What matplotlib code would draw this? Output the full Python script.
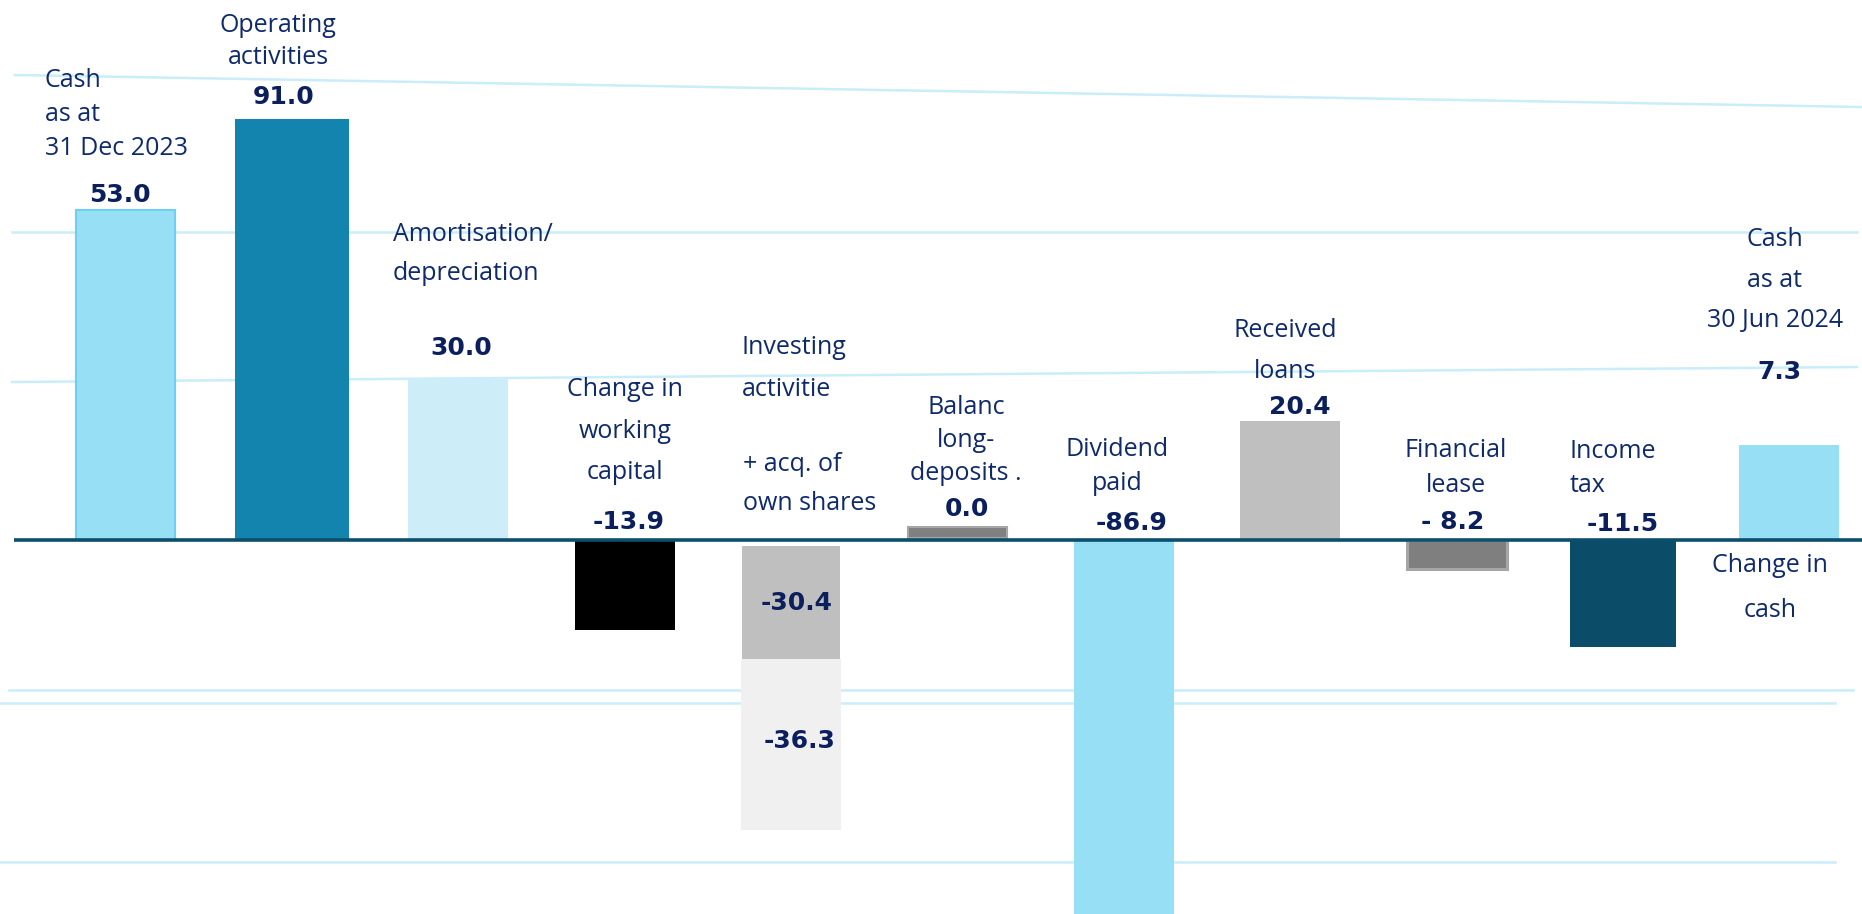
import matplotlib
matplotlib.use("Agg")
import matplotlib.pyplot as plt

# --- data -----------------------------------------------------------------
categories = ["Cash\nas at\n31 Dec 2023", "Operating\nactivities",
              "Amortisation/\ndepreciation", "Change in\nworking\ncapital",
              "Investing\nactivitie", "Balanc\nlong-\ndeposits .",
              "Dividend\npaid", "Received\nloans", "Financial\nlease",
              "Income\ntax", "Cash\nas at\n30 Jun 2024"]
value_labels = ["53.0", "91.0", "30.0", "-13.9", "-30.4", "0.0",
                "-86.9", "20.4", "- 8.2", "-11.5", "7.3"]
# bars are not drawn to scale in the original, so heights are read off the image
bar_bottoms = [0, 0, 0, 0, -1.0, 0.3, 0, 0, 0, 0, 0]
bar_heights = [53.0, 67.6, 25.9, -14.5, -18.1, 1.8, -62.0, 19.1, -4.6, -17.2, 15.3]
# second part of the investing bar (own shares)
own_shares_label = "-36.3"
own_shares_bottom = -19.1
own_shares_height = -27.5
own_shares_caption = "+ acq. of\nown shares"
change_caption = "Change in\ncash"

# --- style ----------------------------------------------------------------
bar_colors = ["#97dff5", "#1284ae", "#cdeef9", "#000000", "#bfbfbf", "#808080",
              "#97dff5", "#bfbfbf", "#7f7f7f", "#0b4d68", "#97dff5"]
edge_colors = ["#6dd0f0", "none", "none", "none", "none", "#a6a6a6",
               "none", "none", "#a6a6a6", "none", "none"]
edge_widths = [1.5, 0, 0, 0, 0, 1.5, 0, 0, 2.2, 0, 0]
bar_widths = [0.6, 0.685, 0.6, 0.6, 0.585, 0.6, 0.6, 0.6, 0.6, 0.64, 0.6]
label_color = "#0f2a6b"
value_color = "#0a1f5c"
grid_color = "#c9edf9"
axis_color = "#0b4f6c"

W, H = 1862, 914
X0, DX = 125.5, 166.39   # pixel of first bar centre, pixels per category
Y0, DY = 540.0, 6.226    # pixel of the zero line, pixels per unit


def px(x, y):
    return (x - X0) / DX, (Y0 - y) / DY


# label anchors (pixel x, pixel baseline of last line, alignment, line spacing)
cat_pos = [(45, 155, "left", 1.47), (278, 64, "center", 1.36),
           (393, 280, "left", 1.73), (625, 479, "center", 1.86),
           (742, 396, "left", 1.88), (966, 480, "center", 1.41),
           (1117, 490, "center", 1.47), (1285, 378, "center", 1.83),
           (1456, 492, "center", 1.52), (1570, 492, "left", 1.47),
           (1775, 327, "center", 1.81)]
val_pos = [(119.5, 202), (284, 104), (461, 355), (629, 529), (797, 610),
           (967, 516), (1132, 530), (1299.5, 414), (1453, 529), (1623, 531),
           (1779.5, 379)]

# faint background lines (pixel start, pixel end)
grid_lines = [((15, 75), (1862, 107)), ((12, 232), (1857, 232)),
              ((12, 382), (1857, 367)), ((9, 690), (1853, 690)),
              ((0, 703), (1835, 703)), ((0, 862), (1835, 862))]

fig = plt.figure(figsize=(W / 100, H / 100), dpi=100)
ax = fig.add_axes([0, 0, 1, 1])
ax.set_xlim(px(0, 0)[0], px(W, 0)[0])
ax.set_ylim(px(0, H)[1], px(0, 0)[1])
ax.axis("off")

for (x1, y1), (x2, y2) in grid_lines:
    a, b = px(x1, y1), px(x2, y2)
    ax.plot([a[0], b[0]], [a[1], b[1]], color=grid_color, lw=1.8, zorder=1)

xs = list(range(len(categories)))
for i in xs:
    ax.bar(i, bar_heights[i], bottom=bar_bottoms[i], width=bar_widths[i],
           color=bar_colors[i], edgecolor=edge_colors[i],
           linewidth=edge_widths[i], zorder=2)
ax.bar(4, own_shares_height, bottom=own_shares_bottom, width=0.6,
       color="#f0f0f0", zorder=2)

# zero line
a, b = px(14, 0)[0], px(W, 0)[0]
ax.plot([a, b], [0, 0], color=axis_color, lw=2.6, zorder=3, solid_capstyle="butt")

lab_font = dict(family="Open Sans", fontsize=18, color=label_color,
                va="baseline", zorder=4)
val_font = dict(family="DejaVu Sans", fontsize=18, fontweight="bold",
                color=value_color, ha="center", va="baseline", zorder=4)

for text, (x, y, ha, ls) in zip(categories, cat_pos):
    tx, ty = px(x, y)
    ax.text(tx, ty, text, ha=ha, multialignment=ha, linespacing=ls, **lab_font)

for text, (x, y) in zip(value_labels, val_pos):
    tx, ty = px(x, y)
    ax.text(tx, ty, text, **val_font)

tx, ty = px(800, 748)
ax.text(tx, ty, own_shares_label, **val_font)
tx, ty = px(743, 510)
ax.text(tx, ty, own_shares_caption, ha="left", multialignment="left",
        linespacing=1.73, **lab_font)
tx, ty = px(1770, 617)
ax.text(tx, ty, change_caption, ha="center", multialignment="center",
        linespacing=2.04, **lab_font)

fig.savefig("out.png", dpi=100, facecolor="white")
